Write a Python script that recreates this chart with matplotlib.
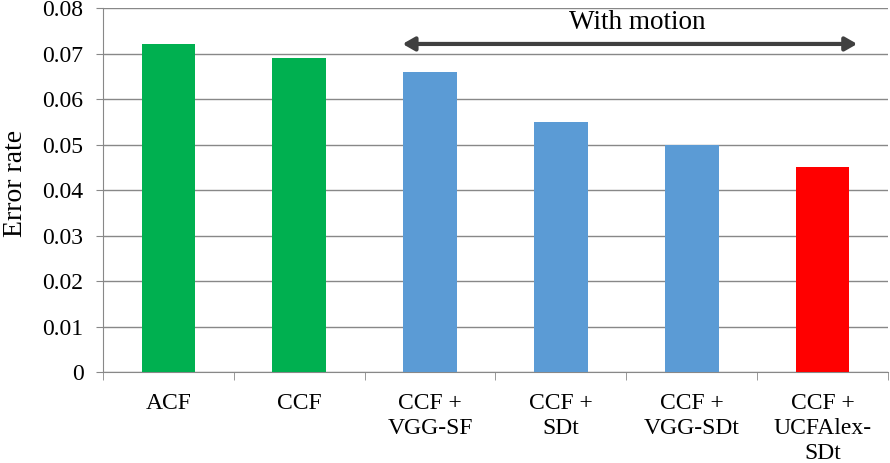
import matplotlib
matplotlib.use("Agg")
import matplotlib.pyplot as plt
import numpy as np

plt.rcParams['font.family'] = ['Liberation Serif', 'DejaVu Serif']

methods = ['ACF', 'CCF', 'CCF +\nVGG-SF', 'CCF +\nSDt', 'CCF +\nVGG-SDt', 'CCF +\nUCFAlex-\nSDt']
error_rate = [0.072, 0.069, 0.066, 0.055, 0.050, 0.045]
bar_colors = ['#00B050', '#00B050', '#5B9BD5', '#5B9BD5', '#5B9BD5', '#FF0000']
yticks = [0, 0.01, 0.02, 0.03, 0.04, 0.05, 0.06, 0.07, 0.08]

fig = plt.figure(figsize=(8.9, 4.63), dpi=100)
ax = fig.add_axes([0.1157, 0.1965, 0.882, 0.7862])

x = np.arange(len(methods))
ax.bar(x, error_rate, width=0.41, color=bar_colors, zorder=3)

ax.set_xlim(-0.5, len(methods) - 0.5)
ax.set_ylim(0, 0.08)
ax.set_yticks(yticks)
ax.set_yticklabels(['0' if v == 0 else '%.2f' % v for v in yticks], fontsize=17)
ax.yaxis.grid(True, color='#888888', linewidth=1, zorder=0)

ax.set_xticks(x)
ax.set_xticklabels(methods, fontsize=17, linespacing=1.27)
ax.set_xticks(np.arange(len(methods) + 1) - 0.5, minor=True)
ax.tick_params(axis='x', which='major', length=0, pad=15)
ax.tick_params(axis='x', which='minor', length=6, color='#888888', direction='out')
ax.tick_params(axis='y', length=5, color='#888888', pad=9)

for s in ['top', 'right']:
    ax.spines[s].set_visible(False)
for s in ['left', 'bottom']:
    ax.spines[s].set_color('#888888')

ax.set_ylabel('Error rate', fontsize=20)
ax.yaxis.set_label_coords(-0.096, 0.519)

# arrow marking the motion based methods
ax.annotate('', xy=(5.265, 0.0721), xytext=(1.79, 0.0721),
            arrowprops=dict(arrowstyle='<|-|>,head_length=0.7,head_width=0.4',
                            color='#404040', lw=3, shrinkA=0, shrinkB=0),
            annotation_clip=False, zorder=5)
ax.text(3.58, 0.0769, 'With motion', ha='center', va='center', fontsize=19.5)

plt.savefig('out.png', dpi=100)
